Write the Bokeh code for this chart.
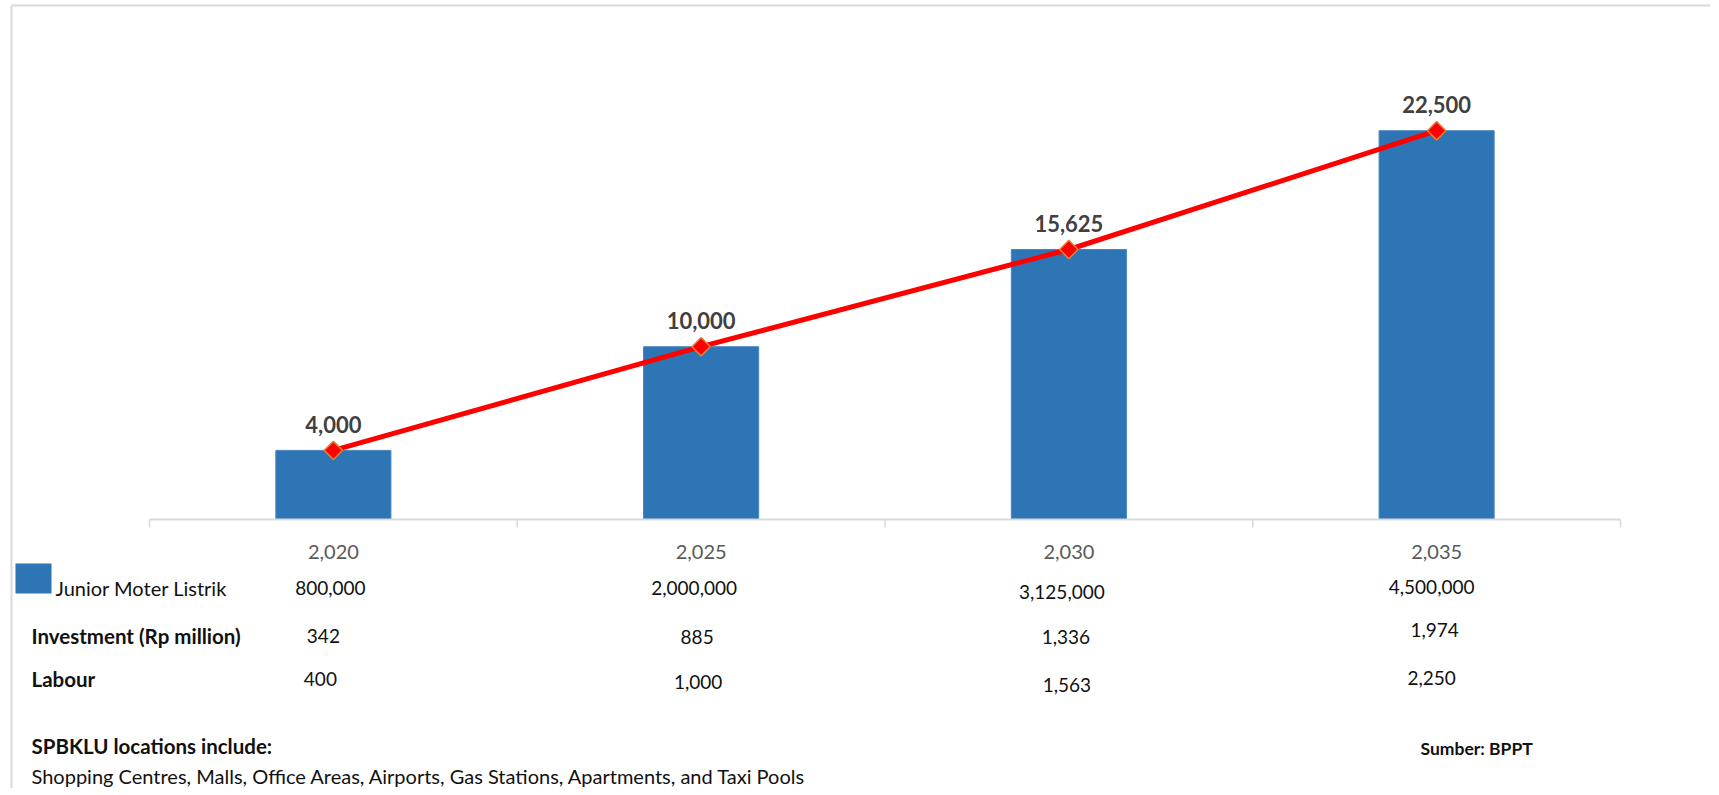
import numpy as np
from bokeh.plotting import figure
from bokeh.models import Range1d
from bokeh.core.properties import value
from bokeh.embed import file_html
from bokeh.resources import INLINE

# ---------------- data ----------------
years = ["2,020", "2,025", "2,030", "2,035"]
stations = [4000, 10000, 15625, 22500]
motors = ["800,000", "2,000,000", "3,125,000", "4,500,000"]
investment = ["342", "885", "1,336", "1,974"]
labour = ["400", "1,000", "1,563", "2,250"]
series_name = "Junior Moter Listrik"
row_titles = ["Investment (Rp million)", "Labour"]
note_title = "SPBKLU locations include:"
note_text = "Shopping Centres, Malls, Office Areas, Airports, Gas Stations, Apartments, and Taxi Pools"
source_text = "Sumber: BPPT"

# ---------------- layout ----------------
W, H = 1710, 788
BASE = 519            # canvas px row of value 0
PX_PER_UNIT = 17.28 / 1000.0
CAT_PX = 367.75       # width of one category in px
X0 = 149              # canvas px of the left end of the category axis
FONT = value("Lato")
GRID = "#D9D9D9"
BAR = "#2E75B6"
INK = "#111111"

x_start = -0.5 - X0 / CAT_PX
x_end = x_start + W / CAT_PX
y_end = BASE / PX_PER_UNIT
y_start = -(H - BASE) / PX_PER_UNIT

p = figure(width=W, height=H, x_range=Range1d(x_start, x_end),
           y_range=Range1d(y_start, y_end), output_backend="svg",
           toolbar_location=None, x_axis_location=None, y_axis_location=None,
           min_border=0)
p.grid.visible = False
p.outline_line_color = None
p.background_fill_color = "white"
p.border_fill_color = "white"
p.extra_x_ranges = {"px": Range1d(0, W)}
p.extra_y_ranges = {"py": Range1d(H, 0)}

xs = np.arange(len(years))
bounds = np.arange(len(years) + 1) - 0.5

# frame of the chart area (top and left)
p.segment(x0=[11], y0=[5], x1=[W], y1=[5], x_range_name="px", y_range_name="py",
          line_color=GRID, line_width=2)
p.segment(x0=[11], y0=[5], x1=[11], y1=[H], x_range_name="px", y_range_name="py",
          line_color=GRID, line_width=2)

# bars
p.vbar(x=xs, top=stations, bottom=0, width=0.313, fill_color=BAR,
       line_color="#4A86C0", line_width=1)

# category axis
p.segment(x0=[bounds[0]], x1=[bounds[-1]], y0=[0], y1=[0], line_color=GRID, line_width=2)
p.segment(x0=bounds, x1=bounds, y0=[BASE] * len(bounds), y1=[BASE + 8] * len(bounds),
          y_range_name="py", line_color=GRID, line_width=1.5)
p.text(x=xs, y=[551] * len(years), y_range_name="py", text=years,
       text_align="center", text_baseline="middle", text_font=FONT,
       text_font_size="20px", text_color="#595959")

# line with diamond markers
p.line(xs, stations, line_color="#FF0000", line_width=5)
p.scatter(xs, stations, marker="square", angle=np.pi / 4, size=13,
          fill_color="#FF0000", line_color="#ED7D31", line_width=1.5)
p.text(x=xs, y=stations, text=[f"{v:,}" for v in stations], y_offset=-26,
       text_align="center", text_baseline="middle", text_font=FONT,
       text_font_style="bold", text_font_size="22px", text_color="#404040")

# data table below the axis
rows = [
    (motors, [587.5, 587.6, 591.7, 586.7], [-3, -7, -7, -5]),
    (investment, [635.5, 636.7, 636.7, 629], [-10, -4, -3, -2]),
    (labour, [678.5, 681.7, 684, 677], [-13, -3, -2, -5]),
]
for vals, ys, dx in rows:
    p.text(x=xs, y=ys, y_range_name="py", text=vals, x_offset=dx,
           text_align="center", text_baseline="middle", text_font=FONT,
           text_font_size="19px", text_color=INK)

p.rect(x=[33], y=[578], width=36, height=30, x_range_name="px", y_range_name="py",
       fill_color=BAR, line_color=None)
p.text(x=[55], y=[587.5], x_range_name="px", y_range_name="py", text=[series_name],
       text_baseline="middle", text_font=FONT, text_font_size="20px", text_color=INK)
p.text(x=[31, 31], y=[635, 678], x_range_name="px", y_range_name="py", text=row_titles,
       text_baseline="middle", text_font=FONT, text_font_style="bold",
       text_font_size="20.5px", text_color=INK)

# notes
p.text(x=[31], y=[745], x_range_name="px", y_range_name="py", text=[note_title],
       text_baseline="middle", text_font=FONT, text_font_style="bold",
       text_font_size="20.5px", text_color=INK)
p.text(x=[31], y=[775.5], x_range_name="px", y_range_name="py", text=[note_text],
       text_baseline="middle", text_font=FONT, text_font_size="20px", text_color=INK)
p.text(x=[1420], y=[748], x_range_name="px", y_range_name="py", text=[source_text],
       text_baseline="middle", text_font=FONT, text_font_style="bold",
       text_font_size="17.5px", text_color=INK)

open("out.html", "w").write(file_html(p, INLINE))
